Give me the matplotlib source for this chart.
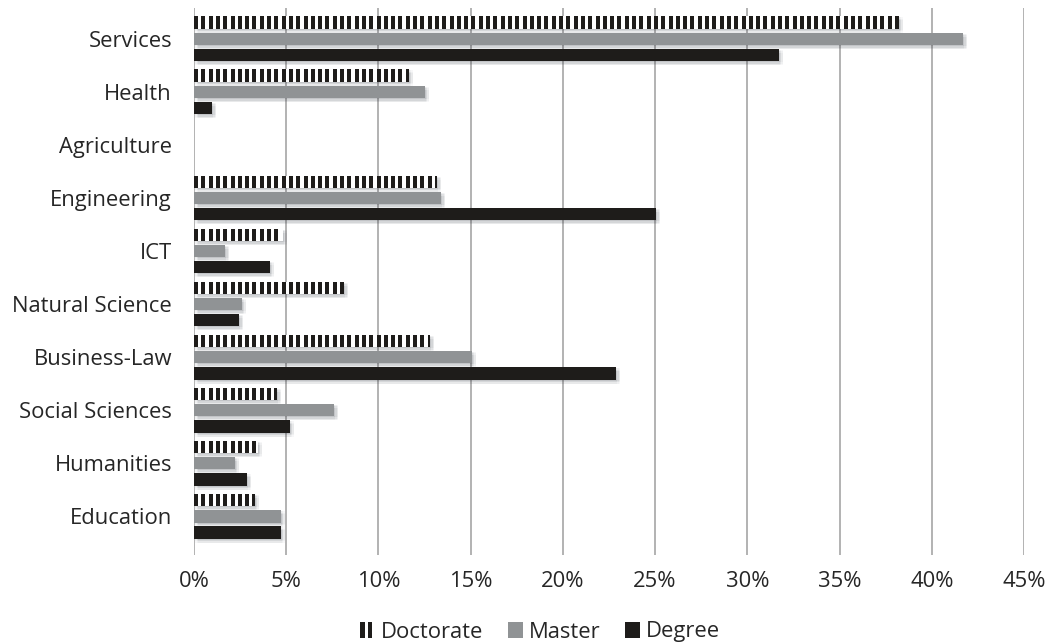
import matplotlib
matplotlib.use("Agg")
import matplotlib.pyplot as plt
import matplotlib.patheffects as pe
from matplotlib.patches import Patch, Rectangle
from matplotlib.collections import LineCollection
from matplotlib.legend_handler import HandlerBase
import numpy as np

# Share of graduates by field of study (%), listed bottom to top
categories = ["Education", "Humanities", "Social Sciences", "Business-Law",
              "Natural Science", "ICT", "Engineering", "Agriculture",
              "Health", "Services"]
doctorate = [3.3, 3.45, 4.5, 12.8, 8.15, 4.8, 13.2, 0.0, 11.65, 38.2]
master = [4.7, 2.2, 7.6, 15.05, 2.6, 1.7, 13.4, 0.0, 12.5, 41.7]
degree = [4.7, 2.9, 5.2, 22.9, 2.45, 4.1, 25.05, 0.0, 1.0, 31.7]
x_ticks = [0, 5, 10, 15, 20, 25, 30, 35, 40, 45]
series_names = ["Doctorate", "Master", "Degree"]

DPI = 88
W, H = 1047, 643
px = 72.0 / DPI  # points per pixel

plt.rcParams["font.family"] = ["Open Sans", "DejaVu Sans"]
TEXT = "#262626"
GRAY = "#909395"
BLACK = "#1e1c1a"
FS = 22 * px

fig = plt.figure(figsize=(W / DPI, H / DPI), dpi=DPI)
ax_left, ax_right = 194, 1024
ax = fig.add_axes([ax_left / W, 1 - 555 / H, (ax_right - ax_left) / W, (555 - 8) / H])

y = np.arange(len(categories))
step = 0.305
h = 0.235
xmax = 45

# soft drop shadow built from several faint offset copies
shadow = []
for dx in (1.0, 2.5, 4.0):
    for dy in (1.0, 2.5, 4.0):
        shadow.append(pe.SimplePatchShadow(offset=(dx * px, -dy * px),
                                           shadow_rgbFace="#303840", alpha=0.035))
shadow.append(pe.Normal())

b1 = ax.barh(y + step, doctorate, height=h, color="white", linewidth=0, zorder=3)
b2 = ax.barh(y, master, height=h, color=GRAY, linewidth=0, zorder=3)
b3 = ax.barh(y - step, degree, height=h, color=BLACK, linewidth=0, zorder=3)
for bars in (b1, b2, b3):
    for p in bars:
        p.set_path_effects(shadow)

# vertical stripe fill for the doctorate bars, clipped to each bar
stripe_px = 7.3      # stripe period in pixels
stripe_w_px = 4.0    # black stripe width in pixels
period = stripe_px * xmax / (ax_right - ax_left)
half_w = stripe_w_px * xmax / (ax_right - ax_left) / 2
for p, val, yc in zip(b1, doctorate, y + step):
    if val <= 0:
        continue
    xs = np.arange(half_w, val, period)
    segs = [[(x, yc - h), (x, yc + h)] for x in xs]
    lc = LineCollection(segs, colors=BLACK, linewidths=stripe_w_px * px,
                        capstyle="butt", zorder=4)
    ax.add_collection(lc)
    lc.set_clip_path(p)

ax.set_xlim(0, xmax)
ax.set_ylim(-0.73, 9.58)
ax.set_xticks(x_ticks)
ax.set_xticklabels([f"{v}%" for v in x_ticks], fontsize=FS, color=TEXT)
ax.set_yticks(y)
ax.set_yticklabels(categories, fontsize=FS, color=TEXT)
ax.tick_params(axis="both", length=0)
ax.tick_params(axis="x", pad=13)
ax.tick_params(axis="y", pad=22 * px)
ax.xaxis.grid(True, color="#b4b4b4", linewidth=2.0 * px, zorder=0)
ax.set_axisbelow(True)
for s in ax.spines.values():
    s.set_visible(False)


class StripeHandler(HandlerBase):
    """Legend key drawn as two vertical black stripes."""
    def create_artists(self, legend, orig_handle, xdescent, ydescent,
                       width, height, fontsize, trans):
        sw = width * 0.28
        r1 = Rectangle((-xdescent, -ydescent), sw, height,
                       facecolor=BLACK, linewidth=0, transform=trans)
        r2 = Rectangle((-xdescent + width * 0.5, -ydescent), sw, height,
                       facecolor=BLACK, linewidth=0, transform=trans)
        return [r1, r2]


stripe_key = Patch(facecolor="white", linewidth=0)
handles = [stripe_key,
           Patch(facecolor=GRAY, linewidth=0),
           Patch(facecolor=BLACK, linewidth=0)]
leg = fig.legend(handles, series_names, loc="center",
                 bbox_to_anchor=(540 / W, 1 - 632 / H), ncol=3, frameon=False,
                 fontsize=FS, handlelength=0.7, handleheight=0.7,
                 handletextpad=0.25, columnspacing=1.1,
                 handler_map={stripe_key: StripeHandler()})
for t in leg.get_texts():
    t.set_color(TEXT)

fig.savefig("out.png", dpi=DPI)
